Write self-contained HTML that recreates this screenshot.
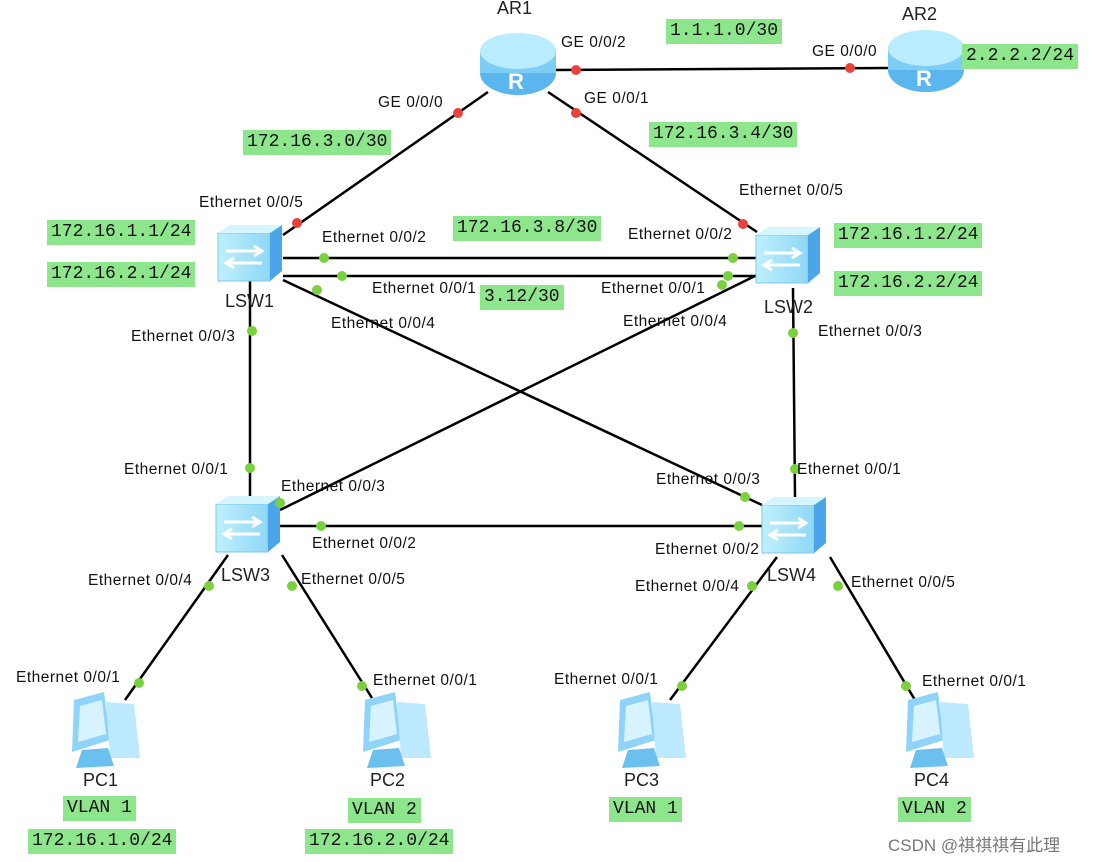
<!DOCTYPE html>
<html><head><meta charset="utf-8"><style>
body{margin:0;background:#fff;width:1095px;height:862px;overflow:hidden}
svg{position:absolute;left:0;top:0}
.t{font-family:"Liberation Sans",sans-serif;font-size:15.5px;letter-spacing:0.5px;fill:#111}
.n{font-family:"Liberation Sans",sans-serif;font-size:18px;fill:#222}
.g{position:absolute;background:#8ee68c;font-family:"Liberation Mono",monospace;font-size:18px;padding:0 4px;color:#111;line-height:25px;white-space:nowrap}
.w{position:absolute;font-family:"Liberation Sans","Noto Sans CJK SC",sans-serif;font-size:17px;color:#777}
</style></head><body>
<svg width="1095" height="862">
<defs>
<linearGradient id="sw" x1="0" x2="1"><stop offset="0" stop-color="#bfefff"/><stop offset="1" stop-color="#8fd8f5"/></linearGradient>
<g id="switch"><rect x="0" y="8" width="52" height="48" fill="url(#sw)" stroke="#7cc8ea"/><polygon points="52,8 64,0 64,46 52,56" fill="#4aa6e8"/><polygon points="0,8 12,0 64,0 52,8" fill="#d6f6ff"/><path d="M8 26h36m-8-5 8 5-8 5M44 38H8m8-5-8 5 8 5" stroke="#fff" stroke-width="3" fill="none"/></g>
<g id="router"><ellipse cx="38" cy="40" rx="38" ry="22" fill="#5bb6ee"/><rect x="0" y="18" width="76" height="22" fill="#7dcdf5"/><ellipse cx="38" cy="18" rx="38" ry="18" fill="#b9ecff"/><text x="28" y="56" font-family="Liberation Sans" font-size="22" fill="#fff" font-weight="bold">R</text></g>
<g id="pc"><polygon points="10,8 40,0 46,48 8,60" fill="#8fd4f8"/><polygon points="16,14 38,8 42,42 14,50" fill="#d6f3ff"/><polygon points="42,10 70,12 76,66 46,66" fill="#bde9ff"/><polygon points="18,58 44,56 50,74 12,76" fill="#6cc0f0"/></g>
</defs>
<g stroke="#000" stroke-width="2.5" fill="none">
<line x1="555" y1="70" x2="888" y2="68"/>
<line x1="488" y1="92" x2="283" y2="235"/>
<line x1="548" y1="92" x2="757" y2="232"/>
<line x1="283" y1="258" x2="757" y2="258"/>
<line x1="283" y1="276" x2="757" y2="276"/>
<line x1="283" y1="280" x2="762" y2="505"/>
<line x1="757" y1="275" x2="280" y2="510"/>
<line x1="250" y1="280" x2="250" y2="497"/>
<line x1="793" y1="288" x2="795" y2="497"/>
<line x1="280" y1="526" x2="762" y2="526"/>
<line x1="228" y1="555" x2="125" y2="700"/>
<line x1="282" y1="555" x2="372" y2="698"/>
<line x1="777" y1="557" x2="670" y2="700"/>
<line x1="830" y1="557" x2="915" y2="700"/>
</g>
<use href="#router" x="480" y="33"/>
<use href="#router" x="888" y="30"/>
<use href="#switch" x="218" y="225"/>
<use href="#switch" x="756" y="227"/>
<use href="#switch" x="216" y="496"/>
<use href="#switch" x="762" y="497"/>
<use href="#pc" x="64" y="692"/>
<use href="#pc" x="355" y="692"/>
<use href="#pc" x="610" y="692"/>
<use href="#pc" x="898" y="692"/>
<g fill="#e8433b"><circle cx="576" cy="70" r="5"/><circle cx="850" cy="68" r="5"/><circle cx="458" cy="113" r="5"/><circle cx="576" cy="113" r="5"/><circle cx="297" cy="223" r="5"/><circle cx="743" cy="224" r="5"/></g>
<g fill="#7ad13f"><circle cx="324" cy="258" r="5"/><circle cx="342" cy="276" r="5"/><circle cx="317" cy="290" r="5"/><circle cx="733" cy="258" r="5"/><circle cx="728" cy="276" r="5"/><circle cx="722" cy="285" r="5"/><circle cx="252" cy="331" r="5"/><circle cx="793" cy="333" r="5"/><circle cx="250" cy="468" r="5"/><circle cx="795" cy="469" r="5"/><circle cx="280" cy="503" r="5"/><circle cx="745" cy="497" r="5"/><circle cx="321" cy="526" r="5"/><circle cx="739" cy="526" r="5"/><circle cx="209" cy="586" r="5"/><circle cx="292" cy="586" r="5"/><circle cx="752" cy="586" r="5"/><circle cx="838" cy="586" r="5"/><circle cx="139" cy="683" r="5"/><circle cx="362" cy="686" r="5"/><circle cx="682" cy="686" r="5"/><circle cx="906" cy="686" r="5"/></g>
<text class="n" x="497" y="14">AR1</text><text class="n" x="902" y="20">AR2</text>
<text class="n" x="225" y="307">LSW1</text><text class="n" x="764" y="313">LSW2</text>
<text class="n" x="221" y="581">LSW3</text><text class="n" x="767" y="581">LSW4</text>
<text class="n" x="83" y="786">PC1</text><text class="n" x="370" y="786">PC2</text><text class="n" x="624" y="786">PC3</text><text class="n" x="914" y="786">PC4</text>
<g class="t">
<text x="561" y="47">GE 0/0/2</text><text x="812" y="56">GE 0/0/0</text>
<text x="378" y="107">GE 0/0/0</text><text x="584" y="103">GE 0/0/1</text>
<text x="199" y="207">Ethernet 0/0/5</text><text x="739" y="195">Ethernet 0/0/5</text>
<text x="322" y="242">Ethernet 0/0/2</text><text x="628" y="239">Ethernet 0/0/2</text>
<text x="372" y="293">Ethernet 0/0/1</text><text x="601" y="293">Ethernet 0/0/1</text>
<text x="331" y="328">Ethernet 0/0/4</text><text x="623" y="326">Ethernet 0/0/4</text>
<text x="131" y="341">Ethernet 0/0/3</text><text x="818" y="336">Ethernet 0/0/3</text>
<text x="124" y="474">Ethernet 0/0/1</text><text x="797" y="474">Ethernet 0/0/1</text>
<text x="281" y="491">Ethernet 0/0/3</text><text x="656" y="484">Ethernet 0/0/3</text>
<text x="312" y="548">Ethernet 0/0/2</text><text x="655" y="554">Ethernet 0/0/2</text>
<text x="88" y="585">Ethernet 0/0/4</text><text x="301" y="584">Ethernet 0/0/5</text>
<text x="635" y="591">Ethernet 0/0/4</text><text x="851" y="587">Ethernet 0/0/5</text>
<text x="16" y="682">Ethernet 0/0/1</text><text x="373" y="685">Ethernet 0/0/1</text>
<text x="554" y="684">Ethernet 0/0/1</text><text x="922" y="686">Ethernet 0/0/1</text>
</g>
</svg>
<div class="g" style="left:666px;top:19px">1.1.1.0/30</div>
<div class="g" style="left:962px;top:44px">2.2.2.2/24</div>
<div class="g" style="left:243px;top:130px">172.16.3.0/30</div>
<div class="g" style="left:649px;top:122px">172.16.3.4/30</div>
<div class="g" style="left:47px;top:220px">172.16.1.1/24</div>
<div class="g" style="left:47px;top:262px">172.16.2.1/24</div>
<div class="g" style="left:453px;top:216px">172.16.3.8/30</div>
<div class="g" style="left:480px;top:285px">3.12/30</div>
<div class="g" style="left:834px;top:223px">172.16.1.2/24</div>
<div class="g" style="left:834px;top:271px">172.16.2.2/24</div>
<div class="g" style="left:63px;top:796px">VLAN 1</div>
<div class="g" style="left:348px;top:798px">VLAN 2</div>
<div class="g" style="left:609px;top:797px">VLAN 1</div>
<div class="g" style="left:898px;top:797px">VLAN 2</div>
<div class="g" style="left:28px;top:829px">172.16.1.0/24</div>
<div class="g" style="left:305px;top:829px">172.16.2.0/24</div>
<div class="w" style="left:888px;top:831px">CSDN @祺祺祺有此理</div>
</body></html>
